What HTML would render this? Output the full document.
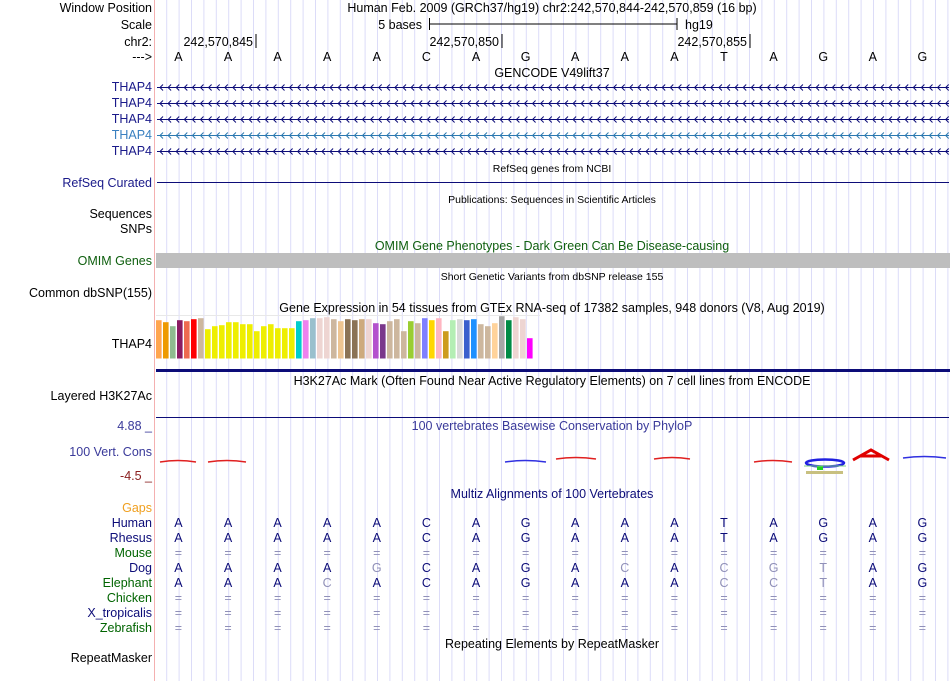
<!DOCTYPE html>
<html><head><meta charset="utf-8"><style>
html,body{margin:0;padding:0;background:#fff}
svg{display:block;font-family:"Liberation Sans",sans-serif}
</style></head><body>
<svg id="c" width="950" height="681" xmlns="http://www.w3.org/2000/svg">
<g id="grid"></g>
<line x1="154.5" y1="0" x2="154.5" y2="681" stroke="#f4b0b0" stroke-width="1"/>
<g id="labels" font-size="12.5" text-anchor="end"></g>
<g id="main"></g>
</svg>
<script>
const NS='http://www.w3.org/2000/svg';
const svg=document.getElementById('c');
const grid=document.getElementById('grid');
const main=document.getElementById('main');
const labels=document.getElementById('labels');
function mk(tag,attrs,parent,txt){const e=document.createElementNS(NS,tag);for(const k in attrs)e.setAttribute(k,attrs[k]);if(txt!==undefined)e.textContent=txt;(parent||main).appendChild(e);return e;}

// data
const bases=['A','A','A','A','A','C','A','G','A','A','A','T','A','G','A','G'];
const species=['Human','Rhesus','Mouse','Dog','Elephant','Chicken','X_tropicalis','Zebrafish'];
const speciesColors=['#0c0c78','#0c0c78','#006400','#0c0c78','#006400','#006400','#0c0c78','#006400'];
const alignments=['AAAAACAGAAATAGAG','AAAAACAGAAATAGAG','================','AAAAgCAGAcAcgtAG','AAAcACAGAAAcctAG','================','================','================'];
const gtexHeights=[38.3,36.3,32.3,38.3,37.3,39.3,40.3,29.3,32.3,33.3,36.3,36.3,34.3,34.3,27.3,32.3,34.3,30.3,30.3,30.3,37.3,38.3,40.3,40.3,41.3,39.3,37.3,39.3,38.3,39.3,39.3,35.3,34.3,37.3,39.3,27.3,37.3,35.3,40.3,38.3,40.3,27.3,38.3,39.3,38.3,39.3,34.3,32.3,35.3,42.3,38.3,41.3,39.3,20.3];
const gtexColors=['#FFA54F','#EE9A00','#8FBC8F','#8B1C62','#EE6A50','#FF0000','#CDB79E','#EEEE00','#EEEE00','#EEEE00','#EEEE00','#EEEE00','#EEEE00','#EEEE00','#EEEE00','#EEEE00','#EEEE00','#EEEE00','#EEEE00','#EEEE00','#00CDCD','#EE82EE','#9AC0CD','#EED5D2','#EED5D2','#CDB79E','#EEC591','#8B7355','#8B7355','#CDAA7D','#EED5D2','#B452CD','#7A378B','#CDB79E','#CDB79E','#CDB79E','#9ACD32','#CDB79E','#7F7FFF','#FFD700','#FFB6C1','#CD9B1D','#B4EEB4','#D9D9D9','#3A5FCD','#1E90FF','#CDB79E','#CDB79E','#FFD39B','#A6A6A6','#008B45','#EED5D2','#EED5D2','#FF00FF'];

const x0=156, bw=49.6;
const bx=i=>x0+bw*(i+0.5)-2.4;

// grid
for(let k=0;k<64;k++){const x=166.7+12.4*k;if(x>949)break;
 const l=mk('line',{x1:x,y1:0,x2:x,y2:681,stroke:'#dcdcf8','stroke-width':1},grid);
 
 }

// left labels
const L=[['Window Position',12,'#000'],['Scale',29,'#000'],['chr2:',46,'#000'],['--->',61,'#000'],
['THAP4',91,'#1a1a8a'],['THAP4',107,'#1a1a8a'],['THAP4',123,'#1a1a8a'],['THAP4',139,'#3a80c0'],['THAP4',155,'#1a1a8a'],
['RefSeq Curated',187,'#1a1a8a'],['Sequences',218,'#000'],['SNPs',233,'#000'],['OMIM Genes',265,'#106010'],
['Common dbSNP(155)',297,'#000'],['THAP4',348,'#000'],['Layered H3K27Ac',400,'#000'],['100 Vert. Cons',456,'#3a3a9a'],
['Gaps',512,'#f0a020'],['RepeatMasker',662,'#000']];
L.forEach(([t,y,c])=>{const e=mk('text',{x:152,y:y,fill:c},labels,t);
 
 });
species.forEach((s,i)=>{const e=mk('text',{x:152,y:527+15*i,fill:speciesColors[i]},labels,s);
 
 });

// header
function t(x,y,s,opts){const a=Object.assign({x:x,y:y,'font-size':12.5,fill:'#000'},opts||{});return mk('text',a,main,s);}
let e;
e=t(552,12,'Human Feb. 2009 (GRCh37/hg19)   chr2:242,570,844-242,570,859 (16 bp)',{'text-anchor':'middle'});
e.setAttribute('xml:space','preserve');
e=t(422,29,'5 bases',{'text-anchor':'end'});
mk('line',{x1:429.5,y1:24,x2:677,y2:24,stroke:'#000'});
mk('line',{x1:429.5,y1:18,x2:429.5,y2:30,stroke:'#000'});
mk('line',{x1:677,y1:18,x2:677,y2:30,stroke:'#000'});
e=t(685,29,'hg19');
[['242,570,845',256],['242,570,850',502],['242,570,855',750]].forEach(([s,x])=>{
 e=t(x-3,46,s,{'text-anchor':'end'});
 mk('line',{x1:x,y1:34,x2:x,y2:48,stroke:'#000'});});
bases.forEach((b,i)=>{e=t(bx(i),61,b,{'text-anchor':'middle'});});

function title(y,s,c,fs){const e=t(552,y,s,{'text-anchor':'middle',fill:c||'#000','font-size':fs||12.5});}
title(77,'GENCODE V49lift37');
// gene lines
[87,103,119,135,151].forEach((y,i)=>{const col=i==3?'#2a78b0':'#0c0c78';
 const g=mk('g',{stroke:col,fill:'none','stroke-width':1});
 
 
 mk('line',{x1:157,y1:y+.5,x2:949,y2:y+.5},g);
 let d='';for(let x=160;x<948;x+=8.1){d+=`M${x+3},${y-2.5}L${x},${y+.5}L${x+3},${y+3.5}`;}
 mk('path',{d:d},g);});
title(172,'RefSeq genes from NCBI','#000',10.5);
e=mk('line',{x1:157,y1:182.5,x2:949,y2:182.5,stroke:'#0c0c78'});
title(203,'Publications: Sequences in Scientific Articles','#000',10.5);
title(250,'OMIM Gene Phenotypes - Dark Green Can Be Disease-causing','#106010');
e=mk('rect',{x:156,y:253,width:794,height:15,fill:'#bebebe'});
title(280,'Short Genetic Variants from dbSNP release 155','#000',10.5);
title(312,'Gene Expression in 54 tissues from GTEx RNA-seq of 17382 samples, 948 donors (V8, Aug 2019)');
// GTEx
const base=358.5, bwid=5.6, bstep=7.0;
gtexHeights.forEach((h,i)=>{const r=mk('rect',{x:156+bstep*i,y:base-h,width:bwid,height:h,fill:gtexColors[i]});
 
 });
mk('line',{x1:156,y1:315.5,x2:540,y2:315.5,stroke:'#e8e8e8'});
e=mk('rect',{x:156,y:369,width:794,height:3,fill:'#0c0c78'});
title(385,'H3K27Ac Mark (Often Found Near Active Regulatory Elements) on 7 cell lines from ENCODE');
mk('line',{x1:156,y1:417.5,x2:949,y2:417.5,stroke:'#0c0c78'});
// phylop
e=t(152,430,'4.88 _',{'text-anchor':'end',fill:'#3a3a9a'});
e=t(152,480,'-4.5 _',{'text-anchor':'end',fill:'#8b2020'});
title(430,'100 vertebrates Basewise Conservation by PhyloP','#3a3a9a');
const cons=[[160,196,461,'#e02020'],[208,246,461,'#e02020'],[505,546,461,'#3030e0'],[556,596,458,'#e02020'],[654,690,458,'#e02020'],[754,792,461,'#e02020'],[903,946,457,'#3030e0']];
cons.forEach(([a,b,y,c])=>{const l=mk('path',{d:`M${a},${y+1}Q${(a+b)/2},${y-2} ${b},${y+1}`,stroke:c,fill:'none','stroke-width':1.5});});
mk('ellipse',{cx:825,cy:463,rx:19,ry:3.5,fill:'none',stroke:'#2020e0','stroke-width':2.5});
mk('rect',{x:817,y:466,width:6,height:4,fill:'#20d020'});
mk('line',{x1:804,y1:466,x2:846,y2:466,stroke:'#80d080'});
mk('rect',{x:806,y:471,width:37,height:3,fill:'#c8c080'});
mk('path',{d:'M853,460L871,450L889,460M860,456L882,456',stroke:'#e00000',fill:'none','stroke-width':3});
title(498,'Multiz Alignments of 100 Vertebrates','#0c0c78');
alignments.forEach((s,r)=>{for(let i=0;i<16;i++){const ch=s[i];const low=ch==='='||ch!==ch.toUpperCase();
 const e2=t(bx(i),527+15*r,ch.toUpperCase(),{'text-anchor':'middle',fill:low?'#9090b8':'#0c0c78','font-size':12.5});
 
 }});
title(648,'Repeating Elements by RepeatMasker');
</script>
</body></html>
